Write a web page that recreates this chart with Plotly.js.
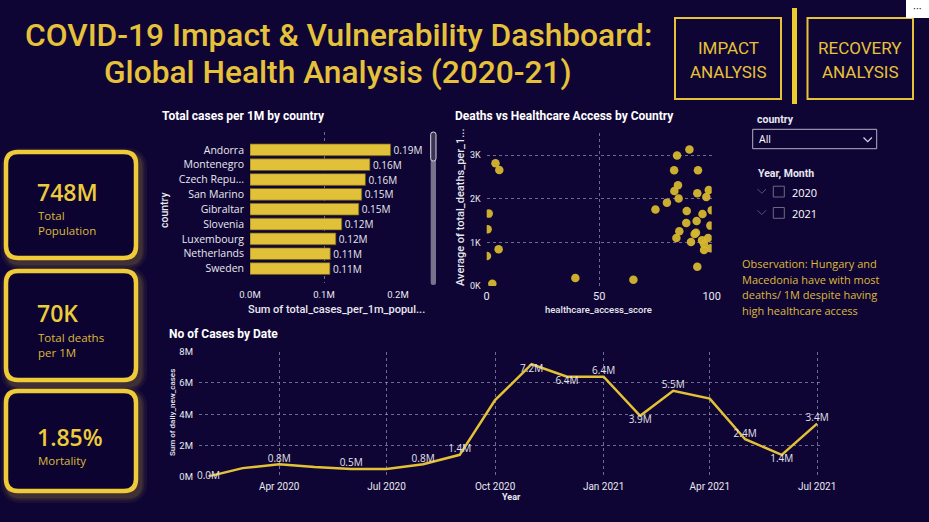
<!DOCTYPE html>
<html>
<head>
<meta charset="utf-8">
<script src="https://cdn.plot.ly/plotly-3.0.1.min.js"></script>
<style>
  html, body { margin: 0; padding: 0; background: #0f0535; overflow: hidden; }
  #dash { width: 929px; height: 522px; }
</style>
</head>
<body>
<div id="dash"></div>
<script>
// ---- data ----
const countries = ['Andorra', 'Montenegro', 'Czech Republic', 'San Marino', 'Gibraltar',
                   'Slovenia', 'Luxembourg', 'Netherlands', 'Sweden'];
const casesPer1M = [190000, 162000, 156000, 151000, 147000, 124000, 116000, 108500, 108000];

const healthAccess = [3.9, 5.6, 0.9, 0.4, 0.1, 5.3, 2.5, 39.4, 65.2, 75.0, 80.1, 83.3, 84.6,
                      83.4, 85.0, 85.3, 90.1, 93.9, 93.6, 98.7, 97.6, 88.9, 100, 95.9, 93.3,
                      88.7, 85.6, 99.4, 84.3, 93.0, 92.4, 90.8, 95.7, 98.4, 96.6, 96.6, 99.6, 93.6];
const deathsPer1M = [2813, 2660, 1659, 1300, 688, 841, 54, 183, 145, 1751, 1911, 2653, 2989,
                     2179, 2309, 2003, 3127, 2653, 2125, 2202, 2041, 1720, 1735, 1651, 1491,
                     1445, 1254, 1384, 1101, 1223, 1193, 1009, 1047, 1101, 963, 826, 864, 443];

const months = ['2020-02-01', '2020-03-01', '2020-04-01', '2020-05-01', '2020-06-01', '2020-07-01',
                '2020-08-01', '2020-09-01', '2020-10-01', '2020-11-01', '2020-12-01', '2021-01-01',
                '2021-02-01', '2021-03-01', '2021-04-01', '2021-05-01', '2021-06-01', '2021-07-01'];
const dailyNewCases = [20000, 550000, 800000, 620000, 500000, 500000, 800000, 1400000, 4900000,
                       7200000, 6400000, 6400000, 3900000, 5500000, 5000000, 2400000, 1400000, 3400000];
const labelShown = [1, 0, 1, 0, 1, 0, 1, 1, 0, 1, 1, 1, 1, 1, 0, 1, 1, 1];
const labelSide  = ['middle center', '', 'top center', '', 'top center', '', 'top center', 'top center', '',
                    'bottom center', 'bottom center', 'top center', 'bottom center', 'top center', '',
                    'top center', 'bottom center', 'top center'];

const dateTicks = ['2020-04-01', '2020-07-01', '2020-10-01', '2021-01-01', '2021-04-01', '2021-07-01'];
const dateTickText = ['Apr 2020', 'Jul 2020', 'Oct 2020', 'Jan 2021', 'Apr 2021', 'Jul 2021'];

const kpiValues = ['748M', '70K', '1.85%'];
const kpiLabels = [['Total', 'Population'], ['Total deaths', 'per 1M'], ['Mortality']];

const yearOptions = ['2020', '2021'];
const observation = ['Observation: Hungary and', 'Macedonia have with most',
                     'deaths/ 1M despite having', 'high healthcare access'];

// ---- styling ----
const W = 929, H = 522;
const BG = '#0f0535';
const GOLD = '#e6c23a';
const GOLD_TXT = '#dcba3a';
const GRID = 'rgba(190,188,215,0.55)';
const TXT = '#e8e8ee';
const TITLE_FONT = 'Roboto, "Noto Sans", sans-serif';
const BODY_FONT = '"Open Sans", "Noto Sans", sans-serif';

const px = x => x / W;
const py = y => 1 - y / H;

function short(name) { return name.length > 12 ? name.slice(0, 10) + '...' : name; }
function fmtM(v, d) { return (v / 1e6).toFixed(d) + 'M'; }

// ---- traces ----
const barTrace = {
  type: 'bar', orientation: 'h',
  x: casesPer1M, y: countries,
  xaxis: 'x', yaxis: 'y',
  width: 0.79,
  marker: { color: '#e1c139', line: { color: 'rgba(110,90,20,0.7)', width: 1 } },
  text: casesPer1M.map(v => fmtM(v, 2)),
  textposition: 'outside', cliponaxis: false, constraintext: 'none',
  textfont: { family: BODY_FONT, size: 10, color: TXT },
  hoverinfo: 'x+y'
};

const scatterTrace = {
  type: 'scatter', mode: 'markers',
  x: healthAccess, y: deathsPer1M,
  xaxis: 'x2', yaxis: 'y2',
  cliponaxis: true,
  marker: { size: 8.5, color: '#d6b62f', opacity: 0.95 }
};

const lineTrace = {
  type: 'scatter', mode: 'lines+text',
  x: months, y: dailyNewCases,
  xaxis: 'x3', yaxis: 'y3',
  line: { color: '#e3c136', width: 2.5 },
  text: dailyNewCases.map((v, i) => labelShown[i] ? fmtM(v, 1) : ''),
  textposition: labelSide.map(s => s || 'top center'),
  textfont: { family: BODY_FONT, size: 10, color: '#e2e2ea' },
  cliponaxis: false
};

// ---- shapes ----
function rr(x0, y0, x1, y1, r) {
  const P = (x, y) => px(x) + ',' + py(y);
  return 'M' + P(x0 + r, y0) + ' L' + P(x1 - r, y0) + ' Q' + P(x1, y0) + ' ' + P(x1, y0 + r) +
         ' L' + P(x1, y1 - r) + ' Q' + P(x1, y1) + ' ' + P(x1 - r, y1) +
         ' L' + P(x0 + r, y1) + ' Q' + P(x0, y1) + ' ' + P(x0, y1 - r) +
         ' L' + P(x0, y0 + r) + ' Q' + P(x0, y0) + ' ' + P(x0 + r, y0) + ' Z';
}
function rect(x0, y0, x1, y1, line, fill) {
  return { type: 'rect', xref: 'paper', yref: 'paper', x0: px(x0), x1: px(x1), y0: py(y1), y1: py(y0),
           line: line, fillcolor: fill || 'rgba(0,0,0,0)', layer: 'above' };
}
function seg(pts, color, width) {
  const d = pts.map((p, i) => (i ? 'L' : 'M') + px(p[0]) + ',' + py(p[1])).join(' ');
  return { type: 'path', xref: 'paper', yref: 'paper', path: d, line: { color: color, width: width } };
}

const cards = [[6, 152, 136, 258], [6, 271, 136, 380], [6, 391, 136, 491]];
const shapes = [];
cards.forEach(c => {
  // soft halo behind each card
  [[16, 0.06], [11, 0.09], [7, 0.14]].forEach(g => {
    shapes.push({ type: 'path', xref: 'paper', yref: 'paper', layer: 'below',
                  path: rr(c[0] + 3, c[1] + 4, c[2] + 3, c[3] + 4, 12),
                  line: { color: '#c9a63a', width: g[0] }, opacity: g[1] });
  });
  shapes.push({ type: 'path', xref: 'paper', yref: 'paper', layer: 'above',
                path: rr(c[0], c[1], c[2], c[3], 12),
                fillcolor: '#0d0331', line: { color: '#efcb3a', width: 4.5 } });
});

// navigation buttons and divider
shapes.push(rect(675, 18, 781, 99, { color: GOLD, width: 2 }));
shapes.push(rect(807.5, 18, 913, 99, { color: GOLD, width: 2 }));
shapes.push(seg([[794.5, 8], [794.5, 104]], '#eccb2f', 5));

// slicers
shapes.push(rect(752.7, 129.3, 876.7, 148.7, { color: '#b4b1c6', width: 1 }));
shapes.push(seg([[863.5, 137.5], [867.7, 141.7], [871.9, 137.5]], '#d8d6e2', 1.2));
[191.5, 212.8].forEach((cy, i) => {
  shapes.push(seg([[757.5, cy - 2.5], [761.8, cy + 1.8], [766, cy - 2.5]], '#57536f', 1));
  shapes.push(rect(773.3, cy - 5.3, 784.3, cy + 5.5, { color: '#6c6983', width: 1 }));
});

// scroll bar of the country list
shapes.push({ type: 'path', xref: 'paper', yref: 'paper', path: rr(430.7, 132, 436, 285, 2.5),
              fillcolor: '#77738c', line: { width: 0 } });
shapes.push({ type: 'path', xref: 'paper', yref: 'paper', path: rr(430.7, 132, 436, 161, 2.5),
              fillcolor: '#3a3552', line: { color: '#d9d8e2', width: 1 } });

// visual header menu box
shapes.push(rect(906, 0, 929, 18, { width: 0 }, '#ffffff'));

// ---- text ----
function note(text, x, y, opts) {
  return Object.assign({ xref: 'paper', yref: 'paper', x: px(x), y: py(y), text: text,
                         showarrow: false, xanchor: 'left', yanchor: 'middle',
                         font: { family: BODY_FONT, size: 11, color: TXT } }, opts || {});
}
const ann = [];
ann.push(note('COVID-19 Impact & Vulnerability Dashboard:', 338, 35,
  { xanchor: 'center', font: { family: TITLE_FONT, size: 31.7, weight: 500, color: GOLD } }));
ann.push(note('Global Health Analysis (2020-21)', 338, 72,
  { xanchor: 'center', font: { family: TITLE_FONT, size: 31.7, weight: 500, color: GOLD } }));

[['IMPACT', 'ANALYSIS', 728], ['RECOVERY', 'ANALYSIS', 860]].forEach(b => {
  ann.push(note(b[0], b[2], 48, { xanchor: 'center', font: { family: TITLE_FONT, size: 17, color: GOLD } }));
  ann.push(note(b[1], b[2], 72, { xanchor: 'center', font: { family: TITLE_FONT, size: 17, color: GOLD } }));
});
ann.push(note('···', 917.5, 7, { xanchor: 'center', font: { family: BODY_FONT, size: 11, color: '#333' } }));

const kpiValueY = [191.5, 313, 436.5];
kpiValues.forEach((v, i) => {
  ann.push(note(v, 35, kpiValueY[i], { font: { family: BODY_FONT, size: 23, weight: 600, color: '#eccb3c' } }));
  kpiLabels[i].forEach((l, j) => {
    ann.push(note(l, 36, kpiValueY[i] + 24 + j * 15.5, { font: { family: BODY_FONT, size: 11.5, color: GOLD_TXT } }));
  });
});

const panelTitle = { family: TITLE_FONT, size: 12, weight: 700, color: '#ffffff' };
ann.push(note('Total cases per 1M by country', 160, 116, { font: panelTitle }));
ann.push(note('Deaths vs Healthcare Access by Country', 453, 116, { font: panelTitle }));
ann.push(note('No of Cases by Date', 167, 334, { font: panelTitle }));

const axTitle = (s, w) => ({ family: TITLE_FONT, size: s, weight: w || 500, color: TXT });
ann.push(note('country', 164, 210, { xanchor: 'center', textangle: -90, font: axTitle(10.5) }));
ann.push(note('Sum of total_cases_per_1m_popul...', 336, 309, { xanchor: 'center', font: axTitle(11) }));
ann.push(note('Average of total_deaths_per_1...', 460, 208, { xanchor: 'center', textangle: -90, font: axTitle(11) }));
ann.push(note('healthcare_access_score', 598, 309, { xanchor: 'center', font: axTitle(9.5) }));
ann.push(note('Sum of daily_new_cases', 172, 413, { xanchor: 'center', textangle: -90, font: axTitle(8) }));
ann.push(note('Year', 512, 497, { xanchor: 'center', font: axTitle(9, 700) }));

ann.push(note('country', 755, 119, { font: axTitle(10.5, 700) }));
ann.push(note('All', 757, 139.5, { font: { family: BODY_FONT, size: 10.5, color: '#ffffff' } }));
ann.push(note('Year, Month', 756, 174, { font: axTitle(10.5, 700) }));
yearOptions.forEach((yr, i) => {
  ann.push(note(yr, 790, 192 + i * 21.3, { font: { family: BODY_FONT, size: 11, color: '#ffffff' } }));
});
observation.forEach((line, i) => {
  ann.push(note(line, 740, 263.5 + i * 15.7, { font: { family: BODY_FONT, size: 11, color: GOLD_TXT } }));
});

// ---- axes ----
const tickFont = s => ({ family: TITLE_FONT, size: s, color: TXT });
const baseAx = { showline: false, zeroline: false, ticks: '', fixedrange: true,
                 gridcolor: GRID, griddash: 'dot', gridwidth: 1 };

const layout = {
  width: W, height: H,
  margin: { l: 0, r: 0, t: 0, b: 0 },
  paper_bgcolor: BG, plot_bgcolor: 'rgba(0,0,0,0)',
  showlegend: false,
  font: { family: BODY_FONT, color: TXT },
  xaxis: Object.assign({}, baseAx, {
    domain: [px(250), px(398)], anchor: 'y', range: [0, 200000],
    tickvals: [0, 100000, 200000], ticktext: ['0.0M', '0.1M', '0.2M'],
    showgrid: true, tickfont: tickFont(9.5), ticklabelstandoff: 4
  }),
  yaxis: Object.assign({}, baseAx, {
    domain: [py(283), py(132)], anchor: 'x', type: 'category',
    range: [8.97, -1.2], showgrid: false,
    tickvals: countries, ticktext: countries.map(short),
    tickfont: { family: BODY_FONT, size: 10.5, color: TXT }, ticklabelstandoff: 5
  }),
  xaxis2: Object.assign({}, baseAx, {
    domain: [px(486.7), px(711.7)], anchor: 'y2', range: [0, 100],
    tickvals: [0, 50, 100], showgrid: true, tickfont: tickFont(11), ticklabelstandoff: 2
  }),
  yaxis2: Object.assign({}, baseAx, {
    domain: [py(286), py(133.3)], anchor: 'x2', range: [0, 3500],
    tickvals: [0, 1000, 2000, 3000], ticktext: ['0K', '1K', '2K', '3K'],
    showgrid: true, tickfont: tickFont(9), ticklabelstandoff: 5
  }),
  xaxis3: Object.assign({}, baseAx, {
    domain: [px(199), px(823)], anchor: 'y3', type: 'date',
    range: ['2020-01-24', '2021-07-06'],
    tickvals: dateTicks, ticktext: dateTickText,
    showgrid: true, tickfont: tickFont(10), ticklabelstandoff: 2
  }),
  yaxis3: Object.assign({}, baseAx, {
    domain: [py(476.7), py(351.7)], anchor: 'x3', range: [0, 8000000],
    tickvals: [0, 2e6, 4e6, 6e6, 8e6], ticktext: ['0M', '2M', '4M', '6M', '8M'],
    showgrid: true, tickfont: tickFont(9.5), ticklabelstandoff: 5
  }),
  shapes: shapes,
  annotations: ann
};

Plotly.newPlot('dash', [barTrace, scatterTrace, lineTrace], layout,
               { staticPlot: true, displayModeBar: false });
</script>
</body>
</html>
